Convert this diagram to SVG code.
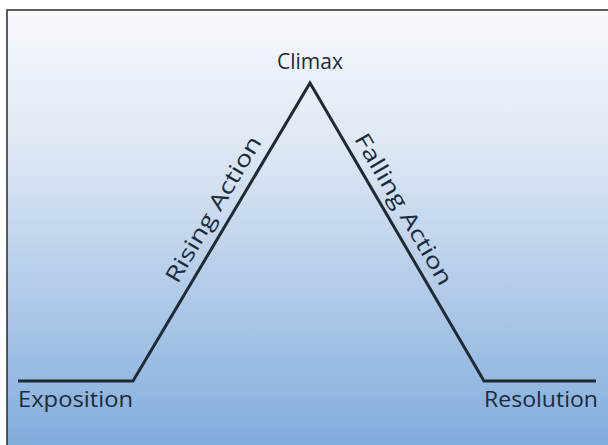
<svg xmlns="http://www.w3.org/2000/svg" width="608" height="445" viewBox="0 0 608 445">
<defs>
<linearGradient id="bg" x1="0" y1="0" x2="0" y2="1">
<stop offset="0" stop-color="#f7f9fc"/>
<stop offset="0.3" stop-color="#dfe9f5"/>
<stop offset="1" stop-color="#82acdc"/>
</linearGradient>
</defs>
<style>
text{font-family:"Open Sans","Noto Sans",sans-serif;font-size:22px;fill:#1c2b3a}
.ln{fill:none;stroke:#1f2a33;stroke-width:3;stroke-linejoin:miter}
</style>
<rect x="0" y="0" width="608" height="445" fill="#ffffff"/>
<rect x="7" y="10" width="603" height="437" fill="url(#bg)" stroke="#2a2a2a" stroke-width="1.5"/>
<g id="connectors">
<polyline class="ln" points="18,381 133,381 310,83 484,381 596,381"/>
</g>
<g id="climax"><text x="277" y="69" textLength="66" lengthAdjust="spacingAndGlyphs">Climax</text></g>
<g id="exposition"><text x="18" y="407" textLength="115" lengthAdjust="spacingAndGlyphs">Exposition</text></g>
<g id="resolution"><text x="484" y="407" textLength="114" lengthAdjust="spacingAndGlyphs">Resolution</text></g>
<g id="rising"><text transform="translate(213,209) rotate(-59.3)" x="-83" y="8" textLength="166" lengthAdjust="spacingAndGlyphs">Rising Action</text></g>
<g id="falling"><text transform="translate(404,209) rotate(59.7)" x="-86" y="8" textLength="172" lengthAdjust="spacingAndGlyphs">Falling Action</text></g>
</svg>
